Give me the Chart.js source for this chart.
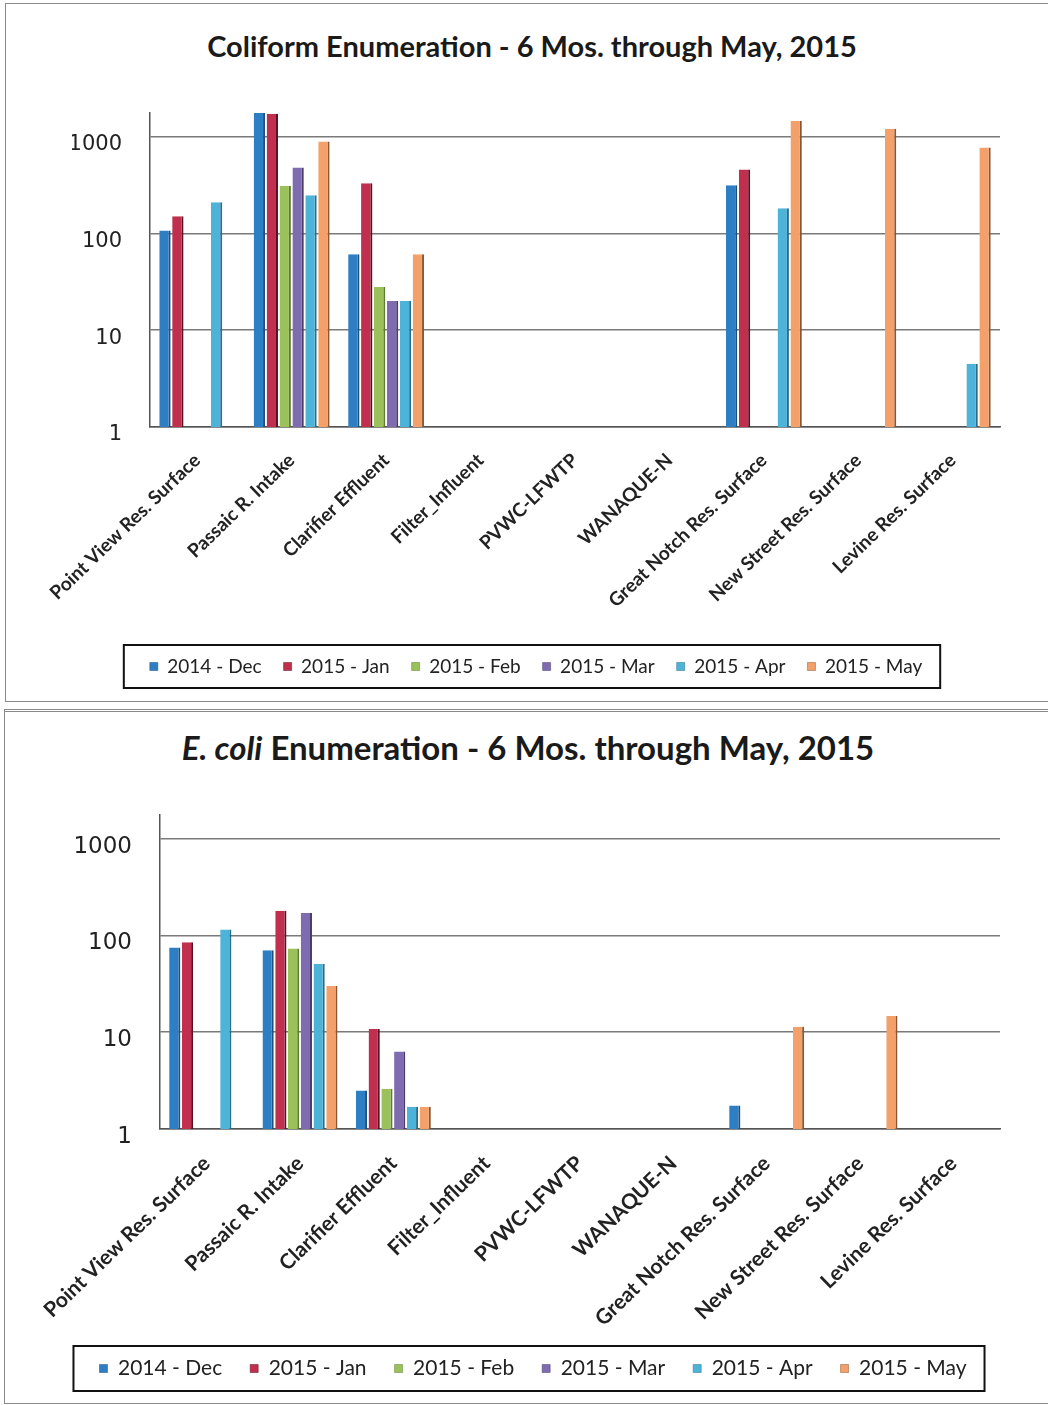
<!DOCTYPE html>
<html>
<head>
<meta charset="utf-8">
<script src="https://cdn.jsdelivr.net/npm/chart.js@4.4.1/dist/chart.umd.min.js"></script>
<style>
  body { margin: 0; background: #fff; width: 1048px; height: 1405px; position: relative; overflow: hidden; }
  .panel { position: absolute; border: 1px solid #8a8a8a; border-right: none; background: #fff; }
  .title { position: absolute; left: 0; width: 1064px; text-align: center; font-family: Lato, sans-serif; font-weight: bold; color: #1a1a1a; }
  .wrap { position: absolute; left: 0; width: 1048px; height: 620px; }
</style>
</head>
<body>
<div class="panel" style="left:5px; top:3px; width:1050px; height:697px;"></div>
<div class="panel" style="left:4px; top:709px; width:1050px; height:691px; border-top:3px double #8a8a8a;"></div>

<div class="title" style="top:28px; font-size:29px;">Coliform Enumeration - 6 Mos. through May, 2015</div>
<div class="wrap" style="top:80px;"><canvas id="coliformChart"></canvas></div>

<div class="title" style="top:727px; font-size:33px; width:1056px;"><i>E. coli</i> Enumeration - 6 Mos. through May, 2015</div>
<div class="wrap" style="top:780px;"><canvas id="ecoliChart"></canvas></div>

<script>
const sites = ['Point View Res. Surface', 'Passaic R. Intake', 'Clarifier Effluent', 'Filter_Influent',
    'PVWC-LFWTP', 'WANAQUE-N', 'Great Notch Res. Surface', 'New Street Res. Surface', 'Levine Res. Surface'];
const months = ['2014 - Dec', '2015 - Jan', '2015 - Feb', '2015 - Mar', '2015 - Apr', '2015 - May'];
const yTicks = [1, 10, 100, 1000];

// Coliform counts per site (null = no sample / nothing shown)
const coliDec = [107, 1750, 61, null, null, null, 313, null, null];
const coliJan = [150, 1720, 330, null, null, null, 456, null, null];
const coliFeb = [null, 310, 28, null, null, null, null, null, null];
const coliMar = [null, 480, 20, null, null, null, null, null, null];
const coliApr = [209, 248, 20, null, null, null, 182, null, 4.5];
const coliMay = [null, 890, 61, null, null, null, 1450, 1200, 770];

// E. coli counts per site
const ecoliDec = [75, 70, 2.5, null, null, null, 1.75, null, null];
const ecoliJan = [85, 180, 10.8, null, null, null, null, null, null];
const ecoliFeb = [null, 73, 2.6, null, null, null, null, null, null];
const ecoliMar = [null, 170, 6.3, null, null, null, null, null, null];
const ecoliApr = [115, 51, 1.7, null, null, null, null, null, null];
const ecoliMay = [null, 30, 1.7, null, null, null, 11.4, 14.7, null];

const fills = ['#2e7ec4', '#c0304e', '#9bc25a', '#7f6bb0', '#4db3d9', '#f4a06a'];
const edges = ['#1d4f7d', '#5a1020', '#5f7a35', '#4a3c6a', '#2b6d86', '#8a5633'];

// draws a frame round the legend items, like the Excel legend box
const legendBox = {
    id: 'legendBox',
    afterDraw(chart, args, opts) {
        const boxes = chart.legend.legendHitBoxes;
        if (!boxes || !boxes.length) return;
        let l = Infinity, r = -Infinity, t = Infinity, b = -Infinity;
        boxes.forEach(h => {
            l = Math.min(l, h.left); r = Math.max(r, h.left + h.width);
            t = Math.min(t, h.top); b = Math.max(b, h.top + h.height);
        });
        const c = chart.ctx;
        c.save();
        c.strokeStyle = '#111';
        c.lineWidth = 2;
        c.strokeRect(l - opts.padL, t - opts.padY, r - l + opts.padL + opts.padR, b - t + opts.padY * 2);
        c.restore();
    }
};

function makeChart(id, series, o) {
    new Chart(document.getElementById(id), {
        type: 'bar',
        data: {
            labels: sites,
            datasets: months.map((m, i) => ({
                label: m,
                data: series[i],
                backgroundColor: fills[i],
                borderColor: edges[i],
                borderWidth: { top: 0, right: 2, bottom: 0, left: 0 },
                categoryPercentage: 0.82,
                barPercentage: 0.88
            }))
        },
        plugins: [legendBox],
        options: {
            responsive: true,
            maintainAspectRatio: false,
            animation: false,
            layout: { padding: { left: o.padLeft, right: 48, top: o.top, bottom: o.bottom } },
            plugins: {
                title: { display: false },
                tooltip: { enabled: false },
                legendBox: { padL: 26, padR: 18, padY: 12 },
                legend: {
                    position: 'bottom',
                    labels: {
                        boxWidth: 8,
                        boxHeight: 8,
                        padding: o.legendPad,
                        color: '#222',
                        font: { family: 'Lato', size: o.legendSize }
                    }
                }
            },
            scales: {
                y: {
                    type: 'logarithmic',
                    min: 1,
                    max: 1750,
                    afterBuildTicks: (scale) => { scale.ticks = yTicks.map(v => ({ value: v })); },
                    afterFit: (scale) => { scale.width = o.left - o.padLeft; },
                    // invisible tick marks keep the labels away from the axis
                    grid: { color: '#7a7a7a', lineWidth: 1.5, drawTicks: true, tickLength: 28, tickColor: 'rgba(0,0,0,0)' },
                    border: { display: true, color: '#555', width: 1.5 },
                    ticks: {
                        padding: 0,
                        labelOffset: 8,
                        color: '#222',
                        font: { family: 'DejaVu Sans', size: o.tickSize },
                        callback: (v) => String(v)
                    }
                },
                x: {
                    grid: { display: false },
                    border: { display: true, color: '#555', width: 1.5 },
                    afterFit: (scale) => { scale.height = o.xHeight; },
                    ticks: {
                        autoSkip: false,
                        maxRotation: 44,
                        minRotation: 44,
                        padding: 14,
                        color: '#222',
                        font: { family: 'Lato', size: o.catSize, weight: 'bold' }
                    }
                }
            }
        }
    });
}

makeChart('coliformChart', [coliDec, coliJan, coliFeb, coliMar, coliApr, coliMay],
    { left: 150, padLeft: 72, top: 33, bottom: 14, xHeight: 208, legendPad: 22, legendSize: 19, tickSize: 21, catSize: 19 });
makeChart('ecoliChart', [ecoliDec, ecoliJan, ecoliFeb, ecoliMar, ecoliApr, ecoliMay],
    { left: 160, padLeft: 66, top: 35, bottom: 11, xHeight: 201, legendPad: 28, legendSize: 21, tickSize: 23, catSize: 21 });
</script>
</body>
</html>
